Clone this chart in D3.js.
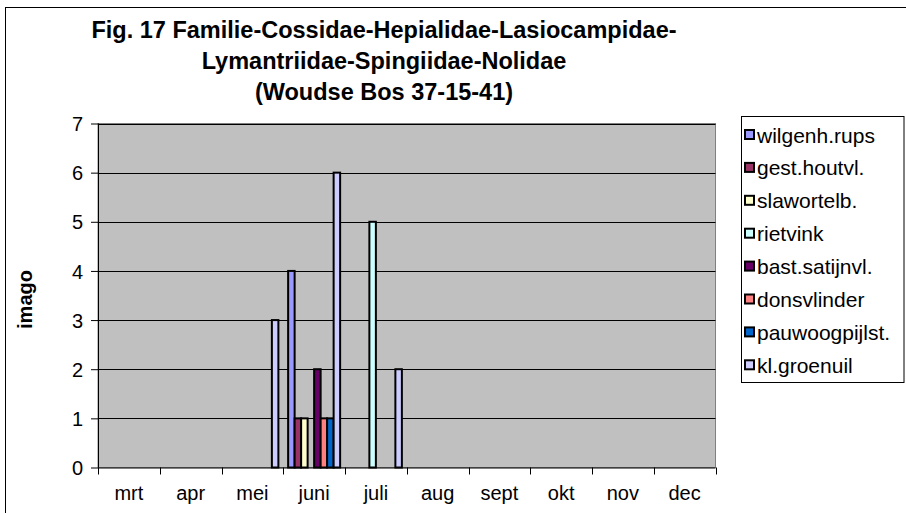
<!DOCTYPE html>
<html>
<head>
<meta charset="utf-8">
<script src="https://cdn.jsdelivr.net/npm/d3@7"></script>
<style>
  html, body { margin: 0; padding: 0; background: #fff; }
  svg { display: block; font-family: "Liberation Sans", Arial, sans-serif; }
</style>
</head>
<body>
<svg id="chart" width="906" height="513"></svg>
<script>
// ---- data ----
const months = ["mrt", "apr", "mei", "juni", "juli", "aug", "sept", "okt", "nov", "dec"];
const seriesNames = ["wilgenh.rups", "gest.houtvl.", "slawortelb.", "rietvink", "bast.satijnvl.", "donsvlinder", "pauwoogpijlst.", "kl.groenuil"];
const seriesColors = ["#9999FF", "#993366", "#FFFFCC", "#CCFFFF", "#660066", "#FF8080", "#0066CC", "#CCCCFF"];
const wilgenhRups   = [0, 0, 0, 4, 0, 0, 0, 0, 0, 0];
const gestHoutvl    = [0, 0, 0, 1, 0, 0, 0, 0, 0, 0];
const slawortelb    = [0, 0, 0, 1, 0, 0, 0, 0, 0, 0];
const rietvink      = [0, 0, 0, 0, 5, 0, 0, 0, 0, 0];
const bastSatijnvl  = [0, 0, 0, 2, 0, 0, 0, 0, 0, 0];
const donsvlinder   = [0, 0, 0, 1, 0, 0, 0, 0, 0, 0];
const pauwoogpijlst = [0, 0, 0, 1, 0, 0, 0, 0, 0, 0];
const klGroenuil    = [0, 0, 3, 6, 2, 0, 0, 0, 0, 0];
const yTicks = [0, 1, 2, 3, 4, 5, 6, 7];
const titleLines = ["Fig. 17 Familie-Cossidae-Hepialidae-Lasiocampidae-", "Lymantriidae-Spingiidae-Nolidae", "(Woudse Bos 37-15-41)"];
const yTitle = "imago";

const seriesValues = [wilgenhRups, gestHoutvl, slawortelb, rietvink, bastSatijnvl, donsvlinder, pauwoogpijlst, klGroenuil];

// ---- layout ----
const svg = d3.select("#chart");
const plot = { left: 98, right: 715.5, top: 123.5, bottom: 467.5 };

// chart area border (extends beyond the visible picture on right/bottom)
svg.append("rect").attr("x", 5.5).attr("y", 7.5).attr("width", 1000).attr("height", 1000)
  .attr("fill", "#fff").attr("stroke", "#000").attr("stroke-width", 1);

const x = d3.scaleBand().domain(months).range([plot.left, plot.right]).paddingInner(0).paddingOuter(0);
const xs = d3.scaleBand().domain(seriesNames).range([0, x.bandwidth()]).paddingInner(0).paddingOuter(0.75);
const y = d3.scaleLinear().domain([0, 7]).range([plot.bottom, plot.top]);

// plot background
svg.append("rect").attr("x", plot.left).attr("y", plot.top)
  .attr("width", plot.right - plot.left).attr("height", plot.bottom - plot.top)
  .attr("fill", "#C0C0C0").attr("stroke", "#808080").attr("stroke-width", 1);

// gridlines
svg.append("g").selectAll("line").data(yTicks.filter(d => d > 0)).join("line")
  .attr("x1", plot.left).attr("x2", plot.right)
  .attr("y1", d => Math.round(y(d)) + 0.5).attr("y2", d => Math.round(y(d)) + 0.5)
  .attr("stroke", "#000").attr("stroke-width", 1);

// bars
const barData = [];
seriesValues.forEach((vals, si) => {
  vals.forEach((v, mi) => { if (v > 0) barData.push({ s: seriesNames[si], c: seriesColors[si], m: months[mi], v }); });
});
svg.append("g").selectAll("rect").data(barData).join("rect")
  .attr("x", d => x(d.m) + xs(d.s))
  .attr("y", d => y(d.v))
  .attr("width", xs.bandwidth())
  .attr("height", d => y(0) - y(d.v))
  .attr("fill", d => d.c)
  .attr("stroke", "#000").attr("stroke-width", 2);

// y axis
const yAxis = d3.axisLeft(y).tickValues(yTicks).tickSize(7).tickPadding(8).tickFormat(d3.format("d"));
const gy = svg.append("g").attr("transform", `translate(${plot.left},0)`).call(yAxis);
gy.select(".domain").attr("stroke", "#000").attr("d", `M0.5,${plot.top}V${plot.bottom}`);
gy.selectAll(".tick line").attr("stroke", "#000").attr("x1", 0.5);
gy.selectAll(".tick text").attr("fill", "#000").style("font-size", "20px").attr("dy", "0.36em");

// x axis (ticks at category boundaries)
const gx = svg.append("g").attr("transform", `translate(0,${plot.bottom})`);
gx.append("line").attr("x1", plot.left).attr("x2", plot.right).attr("y1", 0.5).attr("y2", 0.5).attr("stroke", "#000");
const boundaries = months.map(m => x(m)).concat([x(months[months.length - 1]) + x.bandwidth()]);
gx.selectAll("line.tk").data(boundaries).join("line").attr("class", "tk")
  .attr("x1", d => Math.round(d) + 0.5).attr("x2", d => Math.round(d) + 0.5).attr("y1", 0).attr("y2", 7).attr("stroke", "#000");
gx.selectAll("text").data(months).join("text")
  .attr("x", d => x(d) + x.bandwidth() / 2).attr("y", 32)
  .attr("text-anchor", "middle").style("font-size", "20px").text(d => d);

// y title
svg.append("text").attr("transform", `translate(32,${(plot.top + plot.bottom) / 2 + 4}) rotate(-90)`)
  .attr("text-anchor", "middle").style("font-size", "20px").style("font-weight", "bold").text(yTitle);

// title
const titleY = [37.5, 68.5, 100];
svg.append("g").selectAll("text").data(titleLines).join("text")
  .attr("x", 384).attr("y", (d, i) => titleY[i])
  .attr("text-anchor", "middle").style("font-size", "23.5px").style("font-weight", "bold").text(d => d);

// legend
const lg = svg.append("g");
lg.append("rect").attr("x", 741.5).attr("y", 116.5).attr("width", 162.5).attr("height", 266)
  .attr("fill", "#fff").attr("stroke", "#000").attr("stroke-width", 1);
const item = lg.selectAll("g.item").data(seriesNames).join("g").attr("class", "item")
  .attr("transform", (d, i) => `translate(745,${135 + i * 32.9})`);
item.append("rect").attr("x", 0).attr("y", -5).attr("width", 9).attr("height", 9)
  .attr("fill", (d, i) => seriesColors[i]).attr("stroke", "#000").attr("stroke-width", 2);
item.append("text").attr("x", 12).attr("y", 0).attr("dy", "0.36em")
  .style("font-size", "21px").text(d => d);
</script>
</body>
</html>
